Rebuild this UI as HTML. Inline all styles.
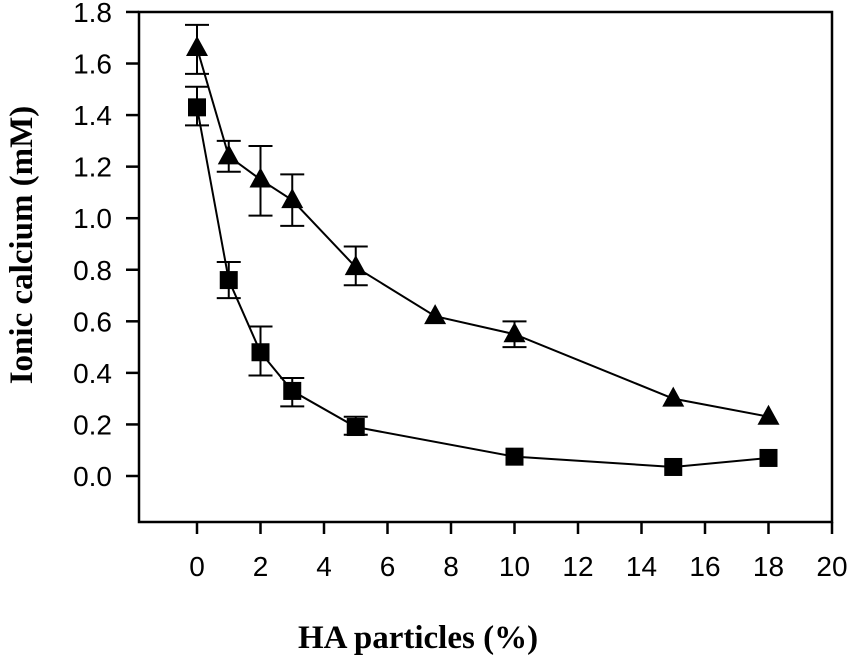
<!DOCTYPE html>
<html><head><meta charset="utf-8"><style>
html,body{margin:0;padding:0;background:#fff;}
svg{display:block;}
</style></head><body>
<svg id="chart" width="850" height="661" xmlns="http://www.w3.org/2000/svg">
<rect x="139" y="12" width="693" height="510" fill="none" stroke="#000" stroke-width="2.5"/>
<g id="ticks"></g>
<g id="series"></g>
<text x="418" y="648" text-anchor="middle" font-family="Liberation Serif, serif" font-weight="bold" font-size="33">HA particles (%)</text>
<text transform="translate(32,245) rotate(-90)" text-anchor="middle" font-family="Liberation Serif, serif" font-weight="bold" font-size="33">Ionic calcium (mM)</text>
</svg>
<script>
const xTicks=[0,2,4,6,8,10,12,14,16,18,20];
const yTicks=[0.0,0.2,0.4,0.6,0.8,1.0,1.2,1.4,1.6,1.8];
const triX=[0,1,2,3,5,7.5,10,15,18];
const triY=[1.66,1.24,1.15,1.07,0.81,0.62,0.55,0.30,0.23];
const triLo=[1.56,1.18,1.01,0.97,0.74,null,0.50,null,null];
const triHi=[1.75,1.30,1.28,1.17,0.89,null,0.60,null,null];
const sqX=[0,1,2,3,5,10,15,18];
const sqY=[1.43,0.76,0.48,0.33,0.19,0.075,0.035,0.07];
const sqLo=[1.36,0.69,0.39,0.27,0.16,null,null,null];
const sqHi=[1.51,0.83,0.58,0.38,0.23,null,null,null];

const NS="http://www.w3.org/2000/svg";
const xs=v=>197+v*31.75;
const ys=v=>476-v*257.8;
function mk(tag,attrs,parent){const e=document.createElementNS(NS,tag);for(const k in attrs)e.setAttribute(k,attrs[k]);parent.appendChild(e);return e;}
const tg=document.getElementById('ticks');
xTicks.forEach(t=>{
  const l=mk('line',{x1:xs(t),x2:xs(t),y1:522,y2:534,stroke:'#000','stroke-width':2.5},tg);
  
  
  const tx=mk('text',{x:xs(t),y:576,'text-anchor':'middle','font-family':'Liberation Sans, sans-serif','font-size':28},tg);
  tx.textContent=t;
  
  
});
yTicks.forEach(t=>{
  const l=mk('line',{x1:126,x2:139,y1:ys(t),y2:ys(t),stroke:'#000','stroke-width':2.5},tg);
  
  
  const tx=mk('text',{x:112,y:ys(t)+10,'text-anchor':'end','font-family':'Liberation Sans, sans-serif','font-size':28},tg);
  tx.textContent=t.toFixed(1);
  
  
});
const sg=document.getElementById('series');
function drawSeries(X,Y,Lo,Hi,shape,name){
  const g=mk('g',{},sg);
  
  
  const pts=X.map((x,i)=>xs(x)+','+ys(Y[i])).join(' ');
  const pl=mk('polyline',{points:pts,fill:'none',stroke:'#000','stroke-width':2},g);
  
  
  X.forEach((x,i)=>{
    const cx=xs(x);
    if(Lo[i]!==null){
      const e=mk('path',{d:`M${cx},${ys(Lo[i])}V${ys(Hi[i])}M${cx-12},${ys(Lo[i])}H${cx+12}M${cx-12},${ys(Hi[i])}H${cx+12}`,stroke:'#000','stroke-width':2,fill:'none'},g);
      
      
    }
    const cy=ys(Y[i]);
    let m;
    if(shape==='tri') m=mk('polygon',{points:`${cx},${cy-12} ${cx-11},${cy+8} ${cx+11},${cy+8}`,fill:'#000'},g);
    else m=mk('rect',{x:cx-9,y:cy-9,width:18,height:18,fill:'#000'},g);
    
    
  });
}
drawSeries(triX,triY,triLo,triHi,'tri','triangle');
drawSeries(sqX,sqY,sqLo,sqHi,'sq','square');
</script>
</body></html>
